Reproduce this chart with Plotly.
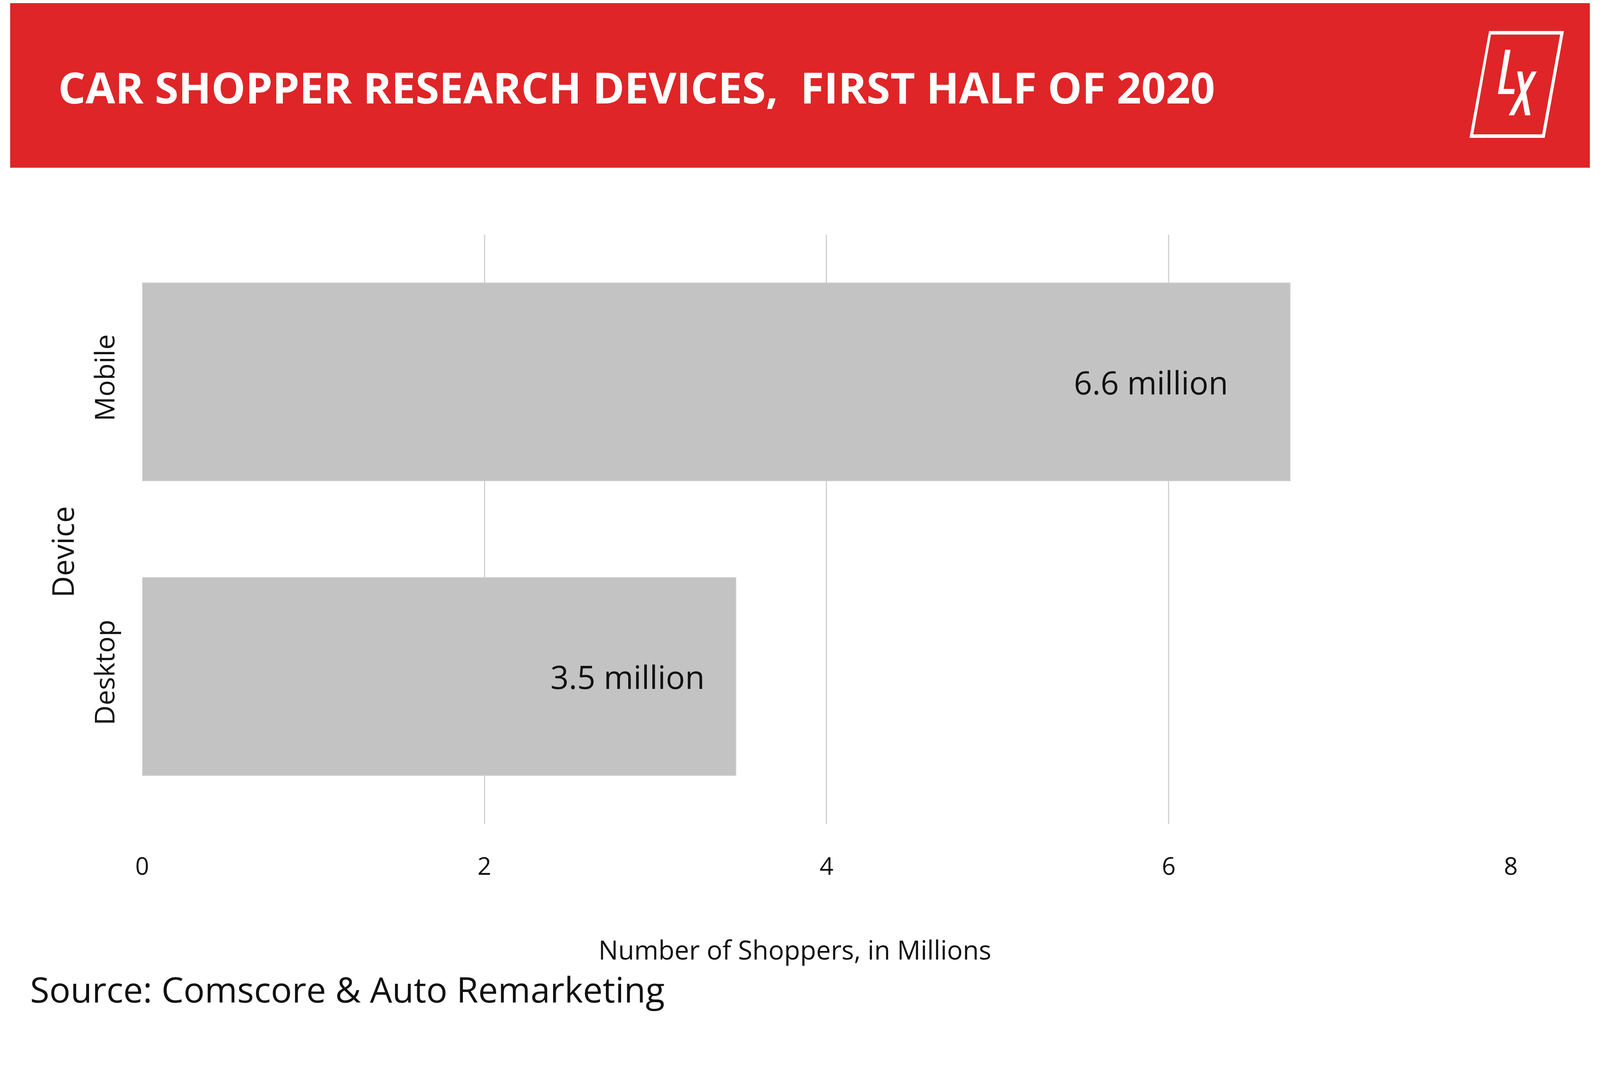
import plotly.graph_objects as go

# data
devices = ["Mobile", "Desktop"]
shoppers = [6.71, 3.47]
bar_labels = ["6.6 million", "3.5 million"]
x_ticks = [0, 2, 4, 6, 8]

# the browser page is 4096 px wide, so the figure is laid out in fractions
# of the 5000x2727 reference and drawn at a size that fits the window
REF_W, REF_H = 5000, 2727
W, H = 4080, 2711
RED = "#DF2527"
FONT = "Open Sans"
INK = "#111111"


def px(x):
    return x / REF_W


def py(y):
    return 1 - y / REF_H


def path(points, dx=20):
    return "M " + " L ".join(f"{px(a + dx):.5f},{py(b):.5f}" for a, b in points) + " Z"


fig = go.Figure()
fig.add_trace(go.Bar(
    x=shoppers,
    y=devices,
    orientation="h",
    marker=dict(color="#C3C3C3", line=dict(color="#D2D2D2", width=2)),
    hoverinfo="skip",
    showlegend=False,
))

# value labels sit inside the bar ends
label_pad = [157, 78]
for dev, val, lab, pad in zip(devices, shoppers, bar_labels, label_pad):
    fig.add_annotation(x=val, y=dev, text=lab, showarrow=False,
                       xanchor="right", xshift=-pad,
                       font=dict(family=FONT, size=82, color=INK))

# header band
shapes = [dict(type="rect", xref="paper", yref="paper", x0=0, x1=1,
               y0=py(424), y1=1, fillcolor=RED, line_width=0, layer="below")]

# LX logo
frame_outer = [(4661, 72), (4898, 72), (4837, 347), (4599, 347)]
frame_inner = [(4667, 81), (4886, 81), (4829, 338), (4611, 338)]
shapes.append(dict(type="path", xref="paper", yref="paper",
                   path=path(frame_outer) + " " + path(frame_inner),
                   fillrule="evenodd", fillcolor="white", line_width=0))
letter_l = [(4712, 120), (4729, 120), (4707, 221), (4742, 221), (4740, 234), (4689, 234)]
stroke_a = [(4750, 176), (4766, 176), (4792, 289), (4775, 289)]
stroke_b = [(4796, 176), (4812, 176), (4740, 289), (4723, 289)]
for pts in (letter_l, stroke_a, stroke_b):
    shapes.append(dict(type="path", xref="paper", yref="paper", path=path(pts),
                       fillcolor="white", line_width=0))

fig.add_annotation(xref="paper", yref="paper", x=px(150), y=py(215),
                   xanchor="left", yanchor="middle", showarrow=False,
                   text="<b>CAR SHOPPER RESEARCH DEVICES,&nbsp; FIRST HALF OF 2020</b>",
                   font=dict(family=FONT, size=110, color="white"))

# axis titles
fig.add_annotation(xref="paper", yref="paper", x=px(2484), y=py(2437),
                   xanchor="center", yanchor="middle", showarrow=False,
                   text="Number of Shoppers, in Millions",
                   font=dict(family=FONT, size=67, color=INK))
fig.add_annotation(xref="paper", yref="paper", x=px(165), y=py(1413),
                   xanchor="center", yanchor="middle", showarrow=False,
                   text="Device", textangle=-90,
                   font=dict(family=FONT, size=76, color=INK))

# source line
fig.add_annotation(xref="paper", yref="paper", x=px(60), y=py(2539),
                   xanchor="left", yanchor="middle", showarrow=False,
                   text="Source: Comscore &amp; Auto Remarketing",
                   font=dict(family=FONT, size=90, color=INK))

fig.update_layout(
    width=W, height=H,
    margin=dict(l=0, r=0, t=0, b=0),
    paper_bgcolor="white",
    plot_bgcolor="white",
    bargap=0.328,
    shapes=shapes,
    xaxis=dict(
        domain=[px(418), px(4750)],
        range=[0, 8],
        tickvals=x_ticks,
        showgrid=True, gridcolor="#D0D0D0", gridwidth=2.5,
        zeroline=False, showline=False,
        ticks="outside", ticklen=55, tickcolor="rgba(0,0,0,0)",
        tickfont=dict(family=FONT, size=62, color=INK),
    ),
    yaxis=dict(
        domain=[py(2114), py(596)],
        autorange="reversed",
        showgrid=False, zeroline=False, showline=False,
        tickangle=-90,
        ticks="outside", ticklen=42, tickcolor="rgba(0,0,0,0)",
        tickfont=dict(family=FONT, size=70, color=INK),
    ),
)

fig.write_html("out.html")
